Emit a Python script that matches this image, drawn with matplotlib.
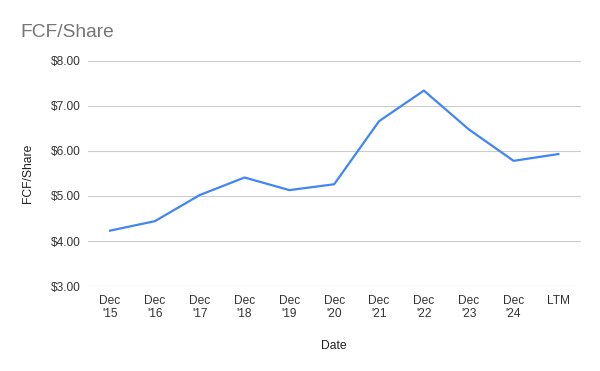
import matplotlib.pyplot as plt

plt.rcParams['font.family'] = ['Liberation Sans', 'DejaVu Sans']

# data
dates = ["Dec\n'15", "Dec\n'16", "Dec\n'17", "Dec\n'18", "Dec\n'19", "Dec\n'20",
         "Dec\n'21", "Dec\n'22", "Dec\n'23", "Dec\n'24", "LTM"]
fcf_share = [4.23, 4.44, 5.02, 5.41, 5.13, 5.26, 6.66, 7.34, 6.48, 5.78, 5.93]
yticks = [3, 4, 5, 6, 7, 8]

fig = plt.figure(figsize=(6, 3.71), dpi=100)
ax = fig.add_axes([0.146, 0.229, 0.822, 0.607])

x = range(len(dates))
ax.plot(x, fcf_share, color="#4285F4", linewidth=1.6, solid_joinstyle="round")

ax.set_xlim(-0.5, len(dates) - 0.5)
ax.set_ylim(3, 8)
ax.set_yticks(yticks)
ax.set_yticklabels([f"${v:.2f}" for v in yticks])
ax.set_xticks(list(x))
ax.set_xticklabels(dates, linespacing=1.05)

ax.grid(axis="y", color="#cccccc", linewidth=0.8)
ax.set_axisbelow(True)
for s in ax.spines.values():
    s.set_visible(False)
ax.tick_params(length=0, labelsize=8.6, labelcolor="#333333")
ax.tick_params(axis="y", pad=5)
ax.tick_params(axis="x", pad=6.5)

ax.set_ylabel("FCF/Share", fontsize=8.7, color="#222222", labelpad=12)
ax.set_xlabel("Date", fontsize=8.7, color="#222222", labelpad=15)

fig.text(0.034, 0.90, "FCF/Share", fontsize=13.8, color="#757575")

fig.savefig("out.png", dpi=100, facecolor="white")
